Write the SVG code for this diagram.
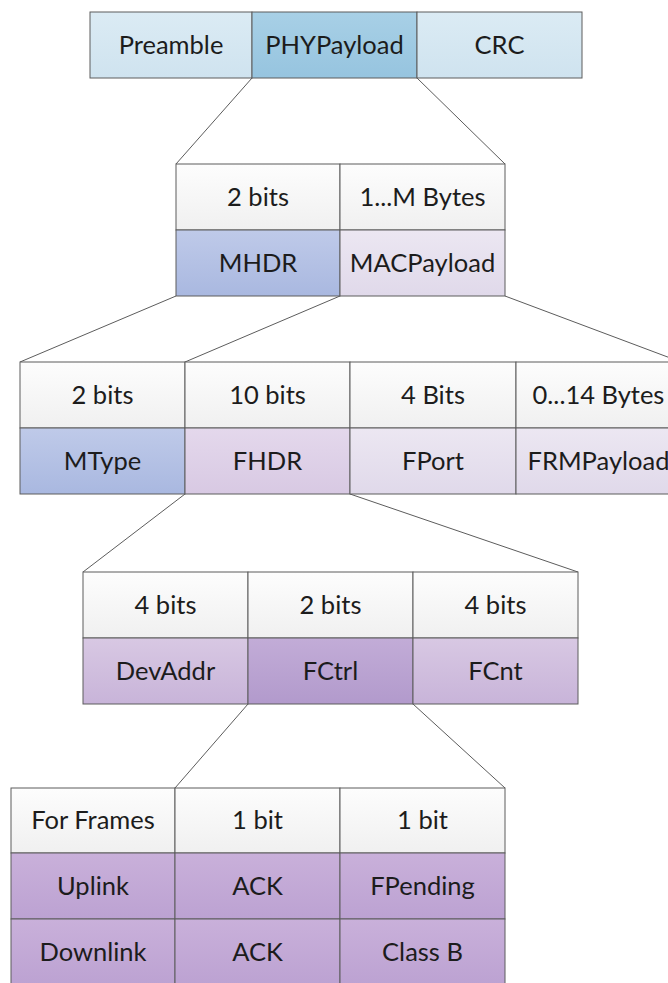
<svg xmlns="http://www.w3.org/2000/svg" width="668" height="983" viewBox="0 0 668 983">
<style>
.c{stroke:#5c5c5c;stroke-width:1}
.t{font-family:Lato,"Liberation Sans",sans-serif;font-size:25.5px;fill:#1c1c1c;text-anchor:middle}
.ln{stroke:#5c5c5c;stroke-width:1;fill:none}
</style>
<defs>
<linearGradient id="gH" x1="0" y1="0" x2="0" y2="1"><stop offset="0" stop-color="#fdfdfd"/><stop offset="1" stop-color="#f0f0f0"/></linearGradient>
<linearGradient id="gBL" x1="0" y1="0" x2="0" y2="1"><stop offset="0" stop-color="#dbebf4"/><stop offset="1" stop-color="#cfe3ef"/></linearGradient>
<linearGradient id="gBM" x1="0" y1="0" x2="0" y2="1"><stop offset="0" stop-color="#a8d0e6"/><stop offset="1" stop-color="#96c4df"/></linearGradient>
<linearGradient id="gPW" x1="0" y1="0" x2="0" y2="1"><stop offset="0" stop-color="#bfcae9"/><stop offset="1" stop-color="#a9b8e0"/></linearGradient>
<linearGradient id="gLL" x1="0" y1="0" x2="0" y2="1"><stop offset="0" stop-color="#ece7f2"/><stop offset="1" stop-color="#e0d9ea"/></linearGradient>
<linearGradient id="gFH" x1="0" y1="0" x2="0" y2="1"><stop offset="0" stop-color="#e4d8ec"/><stop offset="1" stop-color="#d8c9e3"/></linearGradient>
<linearGradient id="gDA" x1="0" y1="0" x2="0" y2="1"><stop offset="0" stop-color="#d8c8e3"/><stop offset="1" stop-color="#c8b4d9"/></linearGradient>
<linearGradient id="gFC" x1="0" y1="0" x2="0" y2="1"><stop offset="0" stop-color="#c2acd7"/><stop offset="1" stop-color="#b29acc"/></linearGradient>
<linearGradient id="gUP" x1="0" y1="0" x2="0" y2="1"><stop offset="0" stop-color="#c9b0da"/><stop offset="1" stop-color="#bca2d2"/></linearGradient>
</defs>
<rect width="668" height="983" fill="#ffffff"/>
<g id="connectors">
<line class="ln" x1="252" y1="78" x2="176" y2="164"/>
<line class="ln" x1="417" y1="78" x2="505" y2="164"/>
<line class="ln" x1="176" y1="296" x2="20" y2="362"/>
<line class="ln" x1="340" y1="296" x2="185" y2="362"/>
<line class="ln" x1="505" y1="296" x2="681" y2="362"/>
<line class="ln" x1="185" y1="494" x2="83" y2="572"/>
<line class="ln" x1="350" y1="494" x2="578" y2="572"/>
<line class="ln" x1="248" y1="704" x2="175" y2="788"/>
<line class="ln" x1="413" y1="704" x2="505" y2="788"/>
</g>
<g id="frame-phy">
<g id="preamble"><rect class="c" x="90" y="12" width="162" height="66" fill="url(#gBL)"/><text class="t" x="171" y="54">Preamble</text></g>
<g id="phypayload"><rect class="c" x="252" y="12" width="165" height="66" fill="url(#gBM)"/><text class="t" x="334.5" y="54">PHYPayload</text></g>
<g id="crc"><rect class="c" x="417" y="12" width="165" height="66" fill="url(#gBL)"/><text class="t" x="499.5" y="54">CRC</text></g>
</g>
<g id="frame-phypayload">
<g id="mhdr"><rect class="c" x="176" y="164" width="164" height="66" fill="url(#gH)"/><text class="t" x="258" y="206">2 bits</text>
<rect class="c" x="176" y="230" width="164" height="66" fill="url(#gPW)"/><text class="t" x="258" y="272">MHDR</text></g>
<g id="macpayload"><rect class="c" x="340" y="164" width="165" height="66" fill="url(#gH)"/><text class="t" x="422.5" y="206">1...M Bytes</text>
<rect class="c" x="340" y="230" width="165" height="66" fill="url(#gLL)"/><text class="t" x="422.5" y="272">MACPayload</text></g>
</g>
<g id="frame-mac">
<g id="mtype"><rect class="c" x="20" y="362" width="165" height="66" fill="url(#gH)"/><text class="t" x="102.5" y="404">2 bits</text>
<rect class="c" x="20" y="428" width="165" height="66" fill="url(#gPW)"/><text class="t" x="102.5" y="470">MType</text></g>
<g id="fhdr"><rect class="c" x="185" y="362" width="165" height="66" fill="url(#gH)"/><text class="t" x="267.5" y="404">10 bits</text>
<rect class="c" x="185" y="428" width="165" height="66" fill="url(#gFH)"/><text class="t" x="267.5" y="470">FHDR</text></g>
<g id="fport"><rect class="c" x="350" y="362" width="166" height="66" fill="url(#gH)"/><text class="t" x="433" y="404">4 Bits</text>
<rect class="c" x="350" y="428" width="166" height="66" fill="url(#gLL)"/><text class="t" x="433" y="470">FPort</text></g>
<g id="frmpayload"><rect class="c" x="516" y="362" width="165" height="66" fill="url(#gH)"/><text class="t" x="598.5" y="404">0...14 Bytes</text>
<rect class="c" x="516" y="428" width="165" height="66" fill="url(#gLL)"/><text class="t" x="598.5" y="470">FRMPayload</text></g>
</g>
<g id="frame-fhdr">
<g id="devaddr"><rect class="c" x="83" y="572" width="165" height="66" fill="url(#gH)"/><text class="t" x="165.5" y="614">4 bits</text>
<rect class="c" x="83" y="638" width="165" height="66" fill="url(#gDA)"/><text class="t" x="165.5" y="680">DevAddr</text></g>
<g id="fctrl"><rect class="c" x="248" y="572" width="165" height="66" fill="url(#gH)"/><text class="t" x="330.5" y="614">2 bits</text>
<rect class="c" x="248" y="638" width="165" height="66" fill="url(#gFC)"/><text class="t" x="330.5" y="680">FCtrl</text></g>
<g id="fcnt"><rect class="c" x="413" y="572" width="165" height="66" fill="url(#gH)"/><text class="t" x="495.5" y="614">4 bits</text>
<rect class="c" x="413" y="638" width="165" height="66" fill="url(#gDA)"/><text class="t" x="495.5" y="680">FCnt</text></g>
</g>
<g id="frame-fctrl">
<g id="frames-col"><rect class="c" x="11" y="788" width="164" height="65" fill="url(#gH)"/><text class="t" x="93" y="829">For Frames</text>
<rect class="c" x="11" y="853" width="164" height="66" fill="url(#gUP)"/><text class="t" x="93" y="895">Uplink</text>
<rect class="c" x="11" y="919" width="164" height="66" fill="url(#gUP)"/><text class="t" x="93" y="961">Downlink</text></g>
<g id="ack-col"><rect class="c" x="175" y="788" width="165" height="65" fill="url(#gH)"/><text class="t" x="257.5" y="829">1 bit</text>
<rect class="c" x="175" y="853" width="165" height="66" fill="url(#gUP)"/><text class="t" x="257.5" y="895">ACK</text>
<rect class="c" x="175" y="919" width="165" height="66" fill="url(#gUP)"/><text class="t" x="257.5" y="961">ACK</text></g>
<g id="fpending-col"><rect class="c" x="340" y="788" width="165" height="65" fill="url(#gH)"/><text class="t" x="422.5" y="829">1 bit</text>
<rect class="c" x="340" y="853" width="165" height="66" fill="url(#gUP)"/><text class="t" x="422.5" y="895">FPending</text>
<rect class="c" x="340" y="919" width="165" height="66" fill="url(#gUP)"/><text class="t" x="422.5" y="961">Class B</text></g>
</g>
</svg>
